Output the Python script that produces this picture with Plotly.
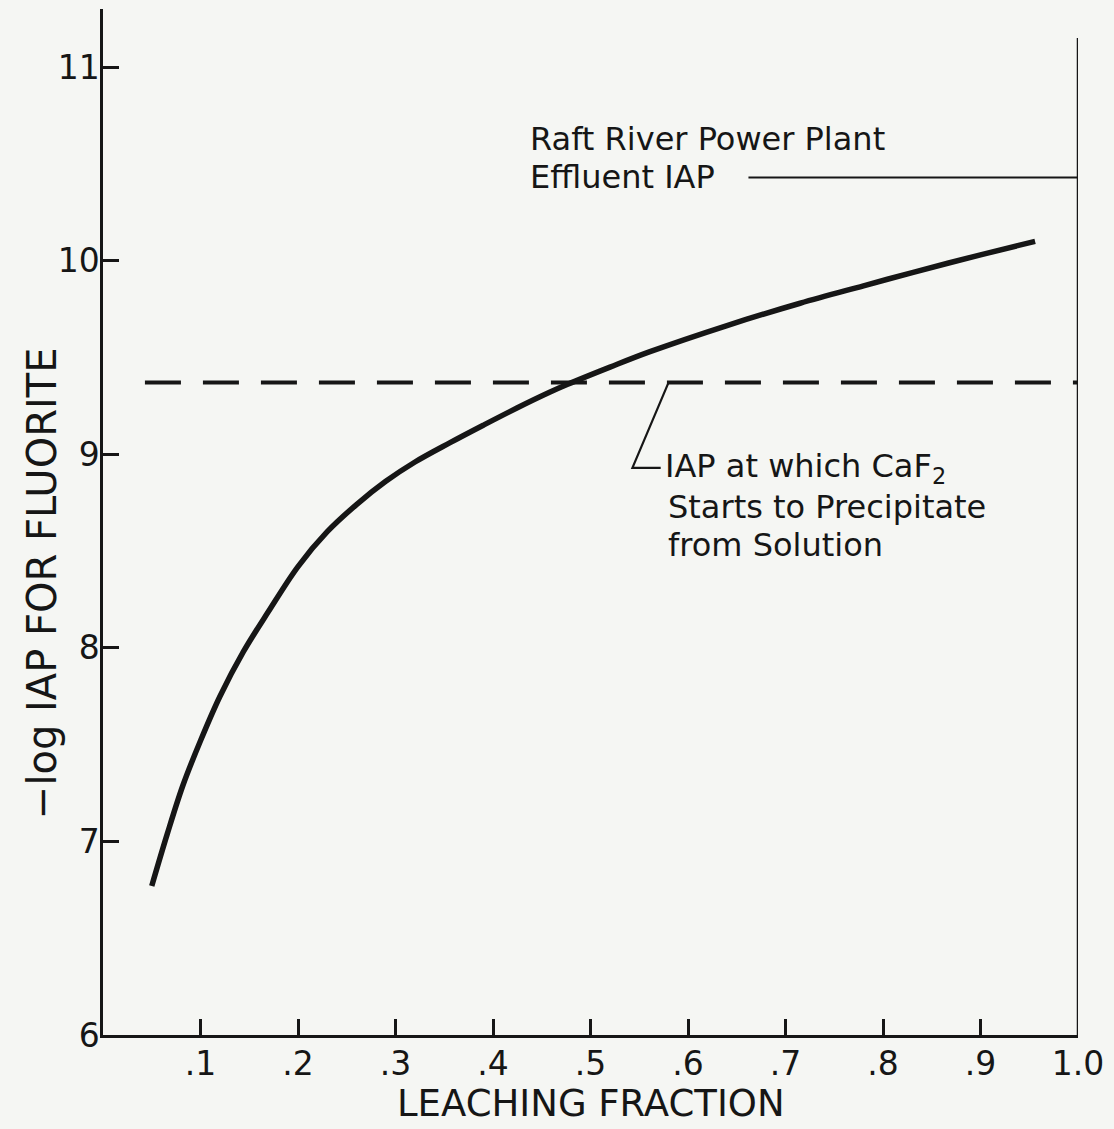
import plotly.graph_objects as go

# Data
leach_frac = [0.050, 0.066, 0.082, 0.100, 0.120, 0.144, 0.170, 0.200, 0.230, 0.260,
              0.290, 0.320, 0.356, 0.390, 0.425, 0.458, 0.476, 0.520, 0.561, 0.640,
              0.715, 0.780, 0.831, 0.900, 0.956]
neg_log_iap = [6.77, 7.04, 7.29, 7.52, 7.75, 7.98, 8.19, 8.42, 8.60, 8.74,
               8.86, 8.96, 9.06, 9.15, 9.24, 9.32, 9.36, 9.45, 9.53, 9.665,
               9.78, 9.87, 9.94, 10.03, 10.10]

precip_iap = 9.37          # dashed line: IAP at which CaF2 starts to precipitate
effluent_iap = 10.43       # Raft River power plant effluent IAP

x_tickvals = [0.1, 0.2, 0.3, 0.4, 0.5, 0.6, 0.7, 0.8, 0.9, 1.0]
x_ticktext = [".1", ".2", ".3", ".4", ".5", ".6", ".7", ".8", ".9", "1.0"]
y_tickvals = [6, 7, 8, 9, 10, 11]
y_ticktext = ["6", "7", "8", "9", "10", "11"]

INK = "#161616"
BG = "#f5f6f3"
FONT = "DejaVu Sans"

fig = go.Figure()

# dashed precipitation line
fig.add_trace(go.Scatter(
    x=[0.043, 1.0], y=[precip_iap, precip_iap], mode="lines",
    line=dict(color=INK, width=4, dash="36px,22px"), hoverinfo="skip", showlegend=False))

# effluent line
fig.add_trace(go.Scatter(
    x=[0.662, 1.0], y=[effluent_iap, effluent_iap], mode="lines",
    line=dict(color=INK, width=2), hoverinfo="skip", showlegend=False))

# main curve
fig.add_trace(go.Scatter(
    x=leach_frac, y=neg_log_iap, mode="lines",
    line=dict(color=INK, width=5.5, shape="spline", smoothing=1.0),
    showlegend=False))

# right boundary line
fig.add_shape(type="line", x0=1.0, x1=1.0, y0=6, y1=11.15, xref="x", yref="y",
              line=dict(color=INK, width=2.5))

# leader line for dashed annotation
fig.add_shape(type="path", xref="x", yref="y",
              path="M 0.580 9.37 L 0.543 8.93 L 0.572 8.93",
              line=dict(color=INK, width=2.2))

ann_font = dict(family=FONT, size=32, color=INK)
annotations = [
    dict(x=0.436, y=10.63, text="Raft River Power Plant"),
    dict(x=0.436, y=10.43, text="Effluent IAP"),
    dict(x=0.574, y=8.93, text="IAP at which CaF<sub>2</sub>"),
    dict(x=0.577, y=8.73, text="Starts to Precipitate"),
    dict(x=0.577, y=8.53, text="from Solution"),
]
for a in annotations:
    fig.add_annotation(x=a["x"], y=a["y"], text=a["text"], xref="x", yref="y",
                       xanchor="left", yanchor="middle", showarrow=False, font=ann_font)

# axis titles as annotations
fig.add_annotation(x=0.5, y=-0.067, xref="paper", yref="paper", text="LEACHING FRACTION",
                   showarrow=False, xanchor="center", yanchor="middle",
                   font=dict(family=FONT, size=37, color=INK))
fig.add_annotation(x=-0.063, y=0.44, xref="paper", yref="paper", text="−log IAP FOR FLUORITE",
                   showarrow=False, xanchor="center", yanchor="middle", textangle=-90,
                   font=dict(family=FONT, size=40, color=INK))

fig.update_layout(
    width=1114, height=1129,
    margin=dict(l=103, r=36, t=9, b=94),
    paper_bgcolor=BG, plot_bgcolor=BG,
    showlegend=False,
    xaxis=dict(range=[0, 1.0], tickvals=x_tickvals, ticktext=x_ticktext,
               ticks="inside", ticklen=16, tickwidth=2.5, tickcolor=INK,
               showline=True, linecolor=INK, linewidth=2.5, showgrid=False, zeroline=False,
               ticklabelstandoff=-2,
               tickfont=dict(family=FONT, size=33, color=INK)),
    yaxis=dict(range=[6, 11.3], tickvals=y_tickvals, ticktext=y_ticktext,
               ticks="inside", ticklen=16, tickwidth=2.5, tickcolor=INK,
               showline=True, linecolor=INK, linewidth=2.5, showgrid=False, zeroline=False,
               ticklabelstandoff=-6,
               tickfont=dict(family=FONT, size=33, color=INK)),
)

fig.write_html("out.html",
               config={"displayModeBar": False},
               post_script="document.body.style.margin='0px';document.body.style.padding='0px';"
                           "document.body.style.overflow='hidden';"
                           "document.body.style.background='" + BG + "';")
